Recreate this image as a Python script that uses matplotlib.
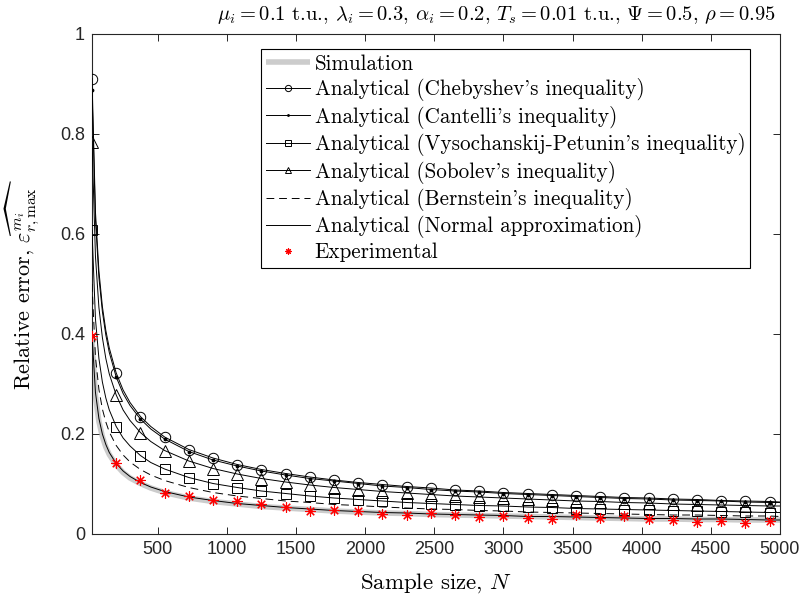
import numpy as np
import matplotlib
import matplotlib.pyplot as plt

matplotlib.use('Agg')

N_line = [25, 50, 75, 100, 125, 150, 200, 250, 300, 375, 450, 550, 725, 900, 1075,
          1250, 1425, 1600, 1775, 1950, 2125, 2300, 2475, 2650, 2825, 3000, 3175,
          3350, 3525, 3700, 3875, 4050, 4225, 4400, 4575, 4750, 4925, 5000]

# Sample sizes carrying markers
N_marker = [25, 200, 375, 550, 725, 900, 1075, 1250, 1425, 1600, 1775, 1950, 2125,
            2300, 2475, 2650, 2825, 3000, 3175, 3350, 3525, 3700, 3875, 4050, 4225,
            4400, 4575, 4750, 4925]

simulation = [0.390, 0.276, 0.225, 0.195, 0.174, 0.159, 0.138, 0.123, 0.112, 0.101, 0.092,
              0.083, 0.072, 0.065, 0.060, 0.055, 0.052, 0.049, 0.046, 0.044, 0.042, 0.041,
              0.039, 0.038, 0.037, 0.036, 0.035, 0.034, 0.033, 0.032, 0.031, 0.030, 0.030,
              0.029, 0.029, 0.028, 0.028, 0.028]
chebyshev = [0.911, 0.644, 0.526, 0.455, 0.407, 0.372, 0.322, 0.288, 0.263, 0.235, 0.215,
             0.194, 0.169, 0.152, 0.139, 0.129, 0.121, 0.114, 0.108, 0.103, 0.099, 0.095,
             0.092, 0.088, 0.086, 0.083, 0.081, 0.079, 0.077, 0.075, 0.073, 0.072, 0.070,
             0.069, 0.067, 0.066, 0.065, 0.064]
cantelli = [0.889, 0.629, 0.513, 0.445, 0.398, 0.363, 0.314, 0.281, 0.257, 0.230, 0.210,
            0.190, 0.165, 0.148, 0.136, 0.126, 0.118, 0.111, 0.106, 0.101, 0.096, 0.093,
            0.089, 0.086, 0.084, 0.081, 0.079, 0.077, 0.075, 0.073, 0.071, 0.070, 0.068,
            0.067, 0.066, 0.064, 0.063, 0.063]
vysochanskij = [0.608, 0.430, 0.351, 0.304, 0.272, 0.248, 0.215, 0.192, 0.176, 0.157, 0.143,
                0.130, 0.113, 0.101, 0.093, 0.086, 0.081, 0.076, 0.072, 0.069, 0.066, 0.063,
                0.061, 0.059, 0.057, 0.056, 0.054, 0.053, 0.051, 0.050, 0.049, 0.048, 0.047,
                0.046, 0.045, 0.044, 0.043, 0.043]
sobolev = [0.785, 0.555, 0.453, 0.393, 0.351, 0.320, 0.278, 0.248, 0.227, 0.203, 0.185,
           0.167, 0.146, 0.131, 0.120, 0.111, 0.104, 0.098, 0.093, 0.089, 0.085, 0.082,
           0.079, 0.076, 0.074, 0.072, 0.070, 0.068, 0.066, 0.065, 0.063, 0.062, 0.060,
           0.059, 0.058, 0.057, 0.056, 0.056]
bernstein = [0.500, 0.354, 0.289, 0.250, 0.224, 0.204, 0.177, 0.158, 0.144, 0.129, 0.118,
             0.107, 0.093, 0.083, 0.076, 0.071, 0.066, 0.063, 0.059, 0.057, 0.054, 0.052,
             0.050, 0.049, 0.047, 0.046, 0.044, 0.043, 0.042, 0.041, 0.040, 0.039, 0.038,
             0.038, 0.037, 0.036, 0.036, 0.035]
normal = [0.400, 0.283, 0.231, 0.200, 0.179, 0.163, 0.141, 0.126, 0.115, 0.103, 0.094,
          0.085, 0.074, 0.067, 0.061, 0.057, 0.053, 0.050, 0.047, 0.045, 0.043, 0.042,
          0.040, 0.039, 0.038, 0.037, 0.035, 0.035, 0.034, 0.033, 0.032, 0.031, 0.031,
          0.030, 0.030, 0.029, 0.028, 0.028]
experimental = [0.396, 0.142, 0.108, 0.082, 0.076, 0.068, 0.066, 0.060, 0.054, 0.047, 0.049,
                0.047, 0.041, 0.039, 0.042, 0.039, 0.035, 0.036, 0.033, 0.031, 0.038, 0.032,
                0.037, 0.030, 0.028, 0.025, 0.027, 0.022, 0.026]

x_ticks = [500, 1000, 1500, 2000, 2500, 3000, 3500, 4000, 4500, 5000]
y_ticks = [0, 0.2, 0.4, 0.6, 0.8, 1]
y_tick_labels = ['0', '0.2', '0.4', '0.6', '0.8', '1']

title = (r'$\mu_i=0.1$ t.u., $\lambda_i=0.3$, $\alpha_i=0.2$, $T_s=0.01$ t.u., '
         r'$\Psi=0.5$, $\rho=$0.95')

plt.rcParams['font.family'] = ['cmr10', 'DejaVu Serif']
plt.rcParams['mathtext.fontset'] = 'cm'
plt.rcParams['axes.formatter.use_mathtext'] = True

fig = plt.figure(figsize=(8.07, 6.01), dpi=100)
ax = fig.add_axes([92 / 807, 1 - 534 / 601, 688 / 807, 500 / 601])

marks = [i for i, n in enumerate(N_line) if n in N_marker]

ax.plot(N_line, simulation, color='#cccccc', lw=4, solid_capstyle='butt',
        label='Simulation', zorder=1)
ax.plot(N_line, chebyshev, 'k-', lw=0.7, marker='o', ms=7.5, mfc='none', mew=0.7,
        markevery=marks, label="Analytical (Chebyshev's inequality)", zorder=3)
ax.plot(N_line, cantelli, 'k-', lw=0.7, marker='.', ms=3.5,
        markevery=marks, label="Analytical (Cantelli's inequality)", zorder=3)
ax.plot(N_line, vysochanskij, 'k-', lw=0.7, marker='s', ms=6.5, mfc='none', mew=0.7,
        markevery=marks, label="Analytical (Vysochanskij-Petunin's inequality)", zorder=3)
ax.plot(N_line, sobolev, 'k-', lw=0.7, marker='^', ms=8, mfc='none', mew=0.7,
        markevery=marks, label="Analytical (Sobolev's inequality)", zorder=3)
ax.plot(N_line, bernstein, 'k--', lw=0.7, dashes=(8, 5),
        label="Analytical (Bernstein's inequality)", zorder=3)
ax.plot(N_line, normal, 'k-', lw=0.7,
        label='Analytical (Normal approximation)', zorder=3)
ax.plot(N_marker, experimental, linestyle='none', marker=(8, 2, 0), ms=7.5, mew=0.8,
        color='red', label='Experimental', zorder=4)

ax.set_xlim(25, 5000)
ax.set_ylim(0, 1)
ax.set_xticks(x_ticks, [str(t) for t in x_ticks], fontfamily='Liberation Sans', fontsize=13)
ax.set_yticks(y_ticks, y_tick_labels, fontfamily='Liberation Sans', fontsize=13)
ax.tick_params(direction='in', top=True, right=True, length=5, width=0.7,
               color='#262626', labelcolor='#262626', pad=5)
for s in ax.spines.values():
    s.set_color('#262626')
    s.set_linewidth(0.8)

ax.set_xlabel(r'Sample size, $N$', fontsize=16.5)
ax.xaxis.set_label_coords(0.5, -0.074)
ax.set_ylabel(r'Relative error, $\widehat{\varepsilon^{m_i}_{r,\max}}$', fontsize=16)
ax.yaxis.set_label_coords(-0.072, 0.5)

fig.text(496 / 807, 1 - 15 / 601, title, ha='center', va='center', fontsize=14.8)

leg = ax.legend(loc='upper right', bbox_to_anchor=(0.957, 0.97), borderaxespad=0,
                fontsize=15.2, handlelength=2.1, handletextpad=0.2, labelspacing=0.21,
                markerscale=0.6, fancybox=False, framealpha=1, edgecolor='black',
                borderpad=0.25)
leg.get_frame().set_linewidth(0.8)

plt.savefig('out.png', dpi=100)
